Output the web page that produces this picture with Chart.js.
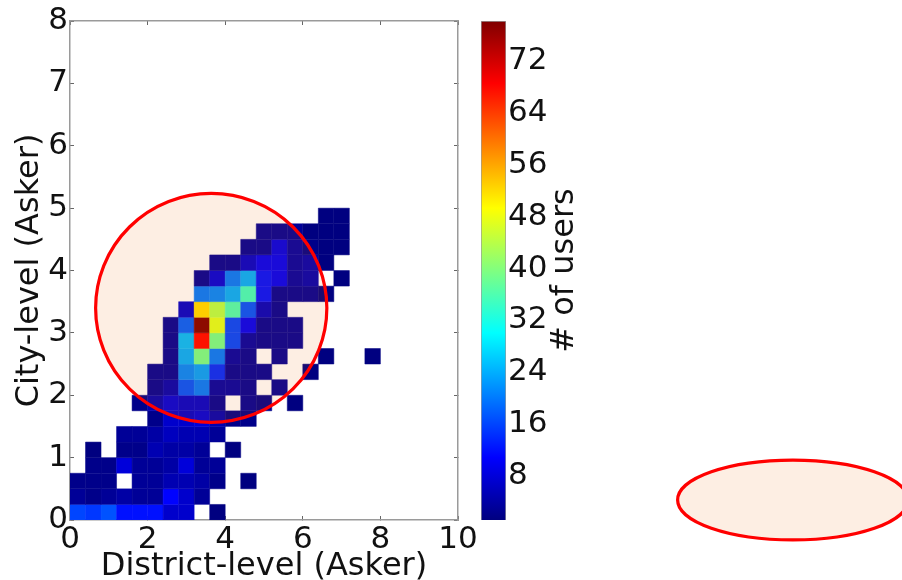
<!DOCTYPE html>
<html>
<head>
<meta charset="utf-8">
<script src="https://cdn.jsdelivr.net/npm/chart.js@4"></script>
<style>
  html, body { margin: 0; padding: 0; background: #fff; }
  #wrap { position: relative; width: 902px; height: 580px; overflow: hidden; }
  canvas { position: absolute; top: 0; filter: blur(0.45px); }
  #heat { left: 0; }
  #bar { left: 470px; }
</style>
</head>
<body>
<div id="wrap">
  <canvas id="heat" width="902" height="580"></canvas>
  <canvas id="bar" width="130" height="580"></canvas>
</div>
<script>
// bin sizes of the 2d histogram
const xBinWidth = 0.4;
const yBinWidth = 0.25;

// # of users per cell, one list per row, row00 is the bottom row
const row00 = [16, 15, 17, 12, 12, 12, 7, 7, 0, 1];
const row01 = [3, 2, 3, 4, 3, 3, 11, 7, 3];
const row02 = [2, 2, 2, 0, 3, 3, 5, 5, 4, 2, 0, 1];
const row03 = [0, 2, 2, 8, 3, 3, 4, 8, 3, 3];
const row04 = [0, 1, 0, 2, 2, 5, 4, 4, 3, 0, 1];
const row05 = [0, 0, 0, 3, 3, 4, 6, 5, 5, 3];
const row06 = [0, 0, 0, 0, 0, 2, 7, 7, 8, 5, 2, 2];
const row07 = [0, 0, 0, 0, 2, 5, 8, 7, 7, 3, 0, 3, 2, 0, 1];
const row08 = [0, 0, 0, 0, 0, 3, 5, 17, 20, 4, 4, 3, 0, 3];
const row09 = [0, 0, 0, 0, 0, 3, 3, 21, 23, 14, 3, 3, 3, 0, 0, 1];
const row10 = [0, 0, 0, 0, 0, 0, 3, 24, 39, 20, 4, 3, 0, 3, 0, 0, 1, 0, 0, 1];
const row11 = [0, 0, 0, 0, 0, 0, 3, 25, 68, 39, 16, 4, 3, 3, 3];
const row12 = [0, 0, 0, 0, 0, 0, 3, 18, 78, 47, 16, 10, 3, 3, 3];
const row13 = [0, 0, 0, 0, 0, 0, 0, 7, 52, 44, 36, 17, 6, 3];
const row14 = [0, 0, 0, 0, 0, 0, 0, 0, 20, 21, 24, 35, 12, 3, 3, 3, 1];
const row15 = [0, 0, 0, 0, 0, 0, 0, 0, 3, 8, 20, 24, 12, 10, 4, 5, 0, 1];
const row16 = [0, 0, 0, 0, 0, 0, 0, 0, 0, 3, 3, 7, 10, 10, 4, 5, 1];
const row17 = [0, 0, 0, 0, 0, 0, 0, 0, 0, 0, 0, 3, 3, 9, 4, 2, 1, 1];
const row18 = [0, 0, 0, 0, 0, 0, 0, 0, 0, 0, 0, 0, 3, 3, 3, 1, 1, 1];
const row19 = [0, 0, 0, 0, 0, 0, 0, 0, 0, 0, 0, 0, 0, 0, 0, 0, 1, 1];
const rows = [row00, row01, row02, row03, row04, row05, row06, row07, row08, row09,
  row10, row11, row12, row13, row14, row15, row16, row17, row18, row19];

const xTicks = [0, 2, 4, 6, 8, 10];
const yTicks = [0, 1, 2, 3, 4, 5, 6, 7, 8];
const colorTicks = [8, 16, 24, 32, 40, 48, 56, 64, 72];
const colorMin = 1.2;
const colorMax = 78.2;

const xLabel = 'District-level (Asker)';
const yLabel = 'City-level (Asker)';
const colorLabel = '# of users';

const fontName = '"DejaVu Sans"';
const axisGrey = '#9a9a9a';
const tickGrey = '#666';
const textColor = '#111';

// ellipses in axis units, the second one sits outside the axes like in the figure
const ellipses = [
  { cx: 3.64, cy: 3.4, rx: 2.98, ry: 1.835 },
  { cx: 18.63, cy: 0.32, rx: 2.97, ry: 0.64 }
];

function clamp01(v) { return Math.max(0, Math.min(1, v)); }

function jet(t) {
  const r = clamp01(1.5 - Math.abs(4 * t - 3));
  const g = clamp01(1.5 - Math.abs(4 * t - 2));
  const b = clamp01(1.5 - Math.abs(4 * t - 1));
  return `rgb(${Math.round(r * 255)},${Math.round(g * 255)},${Math.round(b * 255)})`;
}

function countColor(v) {
  return jet(clamp01((v - colorMin) / (colorMax - colorMin)));
}

const cells = [];
rows.forEach((row, j) => {
  row.forEach((count, k) => {
    if (count > 0) cells.push({ x: (k + 0.5) * xBinWidth, y: (j + 0.5) * yBinWidth, count });
  });
});

// rect points are drawn with half side radius*SQRT1_2, so size them from the scale
function cellRadius(ctx) {
  const sx = ctx.chart.scales.x;
  const side = sx.getPixelForValue(xBinWidth) - sx.getPixelForValue(0);
  return side / 2 / Math.SQRT1_2;
}

const ellipsePlugin = {
  id: 'ellipses',
  afterDatasetsDraw(chart) {
    const { ctx, scales } = chart;
    ellipses.forEach(e => {
      const cx = scales.x.getPixelForValue(e.cx);
      const cy = scales.y.getPixelForValue(e.cy);
      const rx = scales.x.getPixelForValue(e.cx + e.rx) - cx;
      const ry = cy - scales.y.getPixelForValue(e.cy + e.ry);
      ctx.save();
      ctx.beginPath();
      ctx.ellipse(cx, cy, rx, ry, 0, 0, Math.PI * 2);
      ctx.fillStyle = 'rgba(236,100,0,0.11)';
      ctx.fill();
      ctx.lineWidth = 3.2;
      ctx.strokeStyle = '#f00';
      ctx.stroke();
      ctx.restore();
    });
  }
};

function tickList(values) {
  return scale => { scale.ticks = values.map(value => ({ value })); };
}

// keep the chart area where the figure has it, tick label overhang must not move it
function fixWidth(w) {
  return s => { s.width = w; s.paddingTop = 0; s.paddingBottom = 0; };
}
function fixHeight(h) {
  return s => { s.height = h; s.paddingLeft = 0; s.paddingRight = 0; };
}

new Chart(document.getElementById('heat'), {
  type: 'scatter',
  data: {
    datasets: [{
      data: cells,
      pointStyle: 'rect',
      pointRadius: cellRadius,
      pointHoverRadius: cellRadius,
      pointBackgroundColor: ctx => countColor(ctx.raw.count),
      pointBorderColor: ctx => countColor(ctx.raw.count),
      pointBorderWidth: 0.5
    }]
  },
  options: {
    responsive: false,
    animation: false,
    events: [],
    layout: { padding: { left: 0, top: 21, right: 444, bottom: 0 } },
    plugins: { legend: { display: false }, tooltip: { enabled: false } },
    scales: {
      x: {
        type: 'linear', min: 0, max: 10,
        afterBuildTicks: tickList(xTicks),
        afterFit: fixHeight(60),
        border: { color: axisGrey, width: 1.5 },
        grid: { drawOnChartArea: false, tickLength: -4, color: tickGrey },
        ticks: { padding: 5, maxRotation: 0, color: textColor, font: { family: fontName, size: 31 } },
        title: { display: true, text: xLabel, color: textColor, padding: { top: 0, bottom: -3 },
          font: { family: fontName, size: 32, lineHeight: 1 } }
      },
      y: {
        type: 'linear', min: 0, max: 8,
        afterBuildTicks: tickList(yTicks),
        afterFit: fixWidth(70),
        border: { color: axisGrey, width: 1.5 },
        grid: { drawOnChartArea: false, tickLength: -4, color: tickGrey },
        ticks: { padding: 6, color: textColor, font: { family: fontName, size: 31 } },
        title: { display: true, text: yLabel, color: textColor, padding: { top: 14, bottom: 0 },
          font: { family: fontName, size: 32, lineHeight: 1 } }
      },
      xTop: {
        type: 'linear', position: 'top', min: 0, max: 10,
        afterBuildTicks: tickList(xTicks),
        afterFit: fixHeight(0),
        border: { color: axisGrey, width: 1.5 },
        grid: { drawOnChartArea: false, tickLength: -4, color: tickGrey },
        ticks: { display: false }
      },
      yRight: {
        type: 'linear', position: 'right', min: 0, max: 8,
        afterBuildTicks: tickList(yTicks),
        afterFit: fixWidth(0),
        border: { color: axisGrey, width: 1.5 },
        grid: { drawOnChartArea: false, tickLength: -4, color: tickGrey },
        ticks: { display: false }
      }
    }
  },
  plugins: [ellipsePlugin]
});

// right axis titles read top to bottom in Chart.js, this one reads upwards
const colorTitlePlugin = {
  id: 'colorTitle',
  afterDraw(chart) {
    const { ctx, chartArea } = chart;
    ctx.save();
    ctx.translate(95, (chartArea.top + chartArea.bottom) / 2);
    ctx.rotate(-Math.PI / 2);
    ctx.font = `32px ${fontName}`;
    ctx.fillStyle = textColor;
    ctx.textAlign = 'center';
    ctx.textBaseline = 'middle';
    ctx.fillText(colorLabel, 0, 0);
    ctx.restore();
  }
};

const barCanvas = document.getElementById('bar');
const barGradient = barCanvas.getContext('2d').createLinearGradient(0, 520, 0, 21);
for (let i = 0; i <= 8; i++) barGradient.addColorStop(i / 8, jet(i / 8));

new Chart(barCanvas, {
  type: 'bar',
  data: {
    labels: [''],
    datasets: [{
      data: [[colorMin, colorMax]],
      backgroundColor: barGradient,
      borderColor: axisGrey,
      borderWidth: 1,
      barPercentage: 1,
      categoryPercentage: 1
    }]
  },
  options: {
    responsive: false,
    animation: false,
    events: [],
    layout: { padding: { left: 11, top: 21, right: 0, bottom: 60 } },
    plugins: { legend: { display: false }, tooltip: { enabled: false } },
    scales: {
      x: { display: false },
      y: {
        position: 'right',
        min: colorMin, max: colorMax,
        afterBuildTicks: tickList(colorTicks),
        afterFit: fixWidth(94),
        border: { display: false },
        grid: { drawOnChartArea: false, tickLength: -4, color: tickGrey },
        ticks: { padding: 6, color: textColor, font: { family: fontName, size: 31 } }
      }
    }
  },
  plugins: [colorTitlePlugin]
});
</script>
</body>
</html>
